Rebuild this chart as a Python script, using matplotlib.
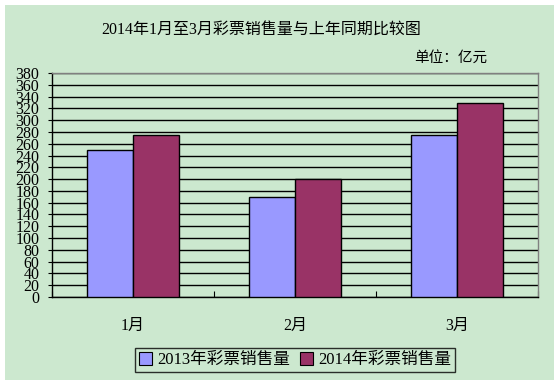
import numpy as np
import matplotlib.pyplot as plt
from matplotlib.patches import Rectangle, Patch

plt.rcParams['font.family'] = ['Liberation Serif', 'Noto Sans CJK SC', 'DejaVu Sans']

months = ['1月', '2月', '3月']
sales_2013 = [250, 170, 275]
sales_2014 = [274, 200, 329]
series_names = ['2013年彩票销售量', '2014年彩票销售量']
yticks = list(range(0, 381, 20))

BG = '#CCE8CF'
C2013 = '#9999FF'
C2014 = '#993366'

W, H = 554, 384
fig = plt.figure(figsize=(W / 100, H / 100), dpi=100)
fig.patch.set_facecolor('white')

# green chart area, behind the axes
fig.add_artist(Rectangle((5 / W, 4 / H), 549 / W, 375 / H,
                         transform=fig.transFigure, facecolor=BG,
                         edgecolor='none', zorder=-5))

ax = fig.add_axes([52 / W, (H - 297) / H, 486 / W, 224 / H])
ax.set_facecolor(BG)

x = np.arange(len(months))
bw = 0.287
ax.bar(x - bw / 2, sales_2013, bw, color=C2013, edgecolor='black', linewidth=1, zorder=3)
ax.bar(x + bw / 2, sales_2014, bw, color=C2014, edgecolor='black', linewidth=1, zorder=3)

ax.set_xlim(-0.5, 2.5)
ax.set_ylim(0, 380)
ax.set_yticks(yticks)
ax.set_yticklabels([str(v) for v in yticks], fontsize=11.5)
ax.yaxis.grid(True, color='black', linewidth=1, zorder=1)
ax.set_axisbelow(True)

ax.set_xticks([-0.5, 0.5, 1.5, 2.5])
ax.set_xticklabels([])
ax.set_xticks(x, minor=True)
ax.set_xticklabels(months, minor=True, fontsize=11.5)
ax.tick_params(axis='x', which='major', direction='in', length=4, color='black')
ax.tick_params(axis='x', which='minor', length=0, pad=15)
ax.tick_params(axis='y', direction='out', length=3, pad=6, color='black')

for s in ['top', 'right']:
    ax.spines[s].set_color('#808080')
for s in ['left', 'bottom']:
    ax.spines[s].set_color('black')
for s in ax.spines.values():
    s.set_linewidth(1)

fig.text(261 / W, 1 - 31 / H, '2014年1月至3月彩票销售量与上年同期比较图',
         ha='center', va='center', fontsize=11.5)
fig.text(487 / W, 1 - 58 / H, '单位：亿元', ha='right', va='center', fontsize=10.5)

handles = [Patch(facecolor=C2013, edgecolor='black', linewidth=0.8),
           Patch(facecolor=C2014, edgecolor='black', linewidth=0.8)]
leg = fig.legend(handles, series_names, loc='center',
                 bbox_to_anchor=(295 / W, 1 - 360 / H), ncol=2, fontsize=12,
                 frameon=True, fancybox=False, handlelength=0.8, handleheight=0.8,
                 handletextpad=0.3, columnspacing=0.6, borderpad=0.25,
                 borderaxespad=0)
leg.get_frame().set_edgecolor('black')
leg.get_frame().set_facecolor(BG)
leg.get_frame().set_linewidth(1)

fig.savefig('out.png', dpi=100, facecolor=fig.get_facecolor())
